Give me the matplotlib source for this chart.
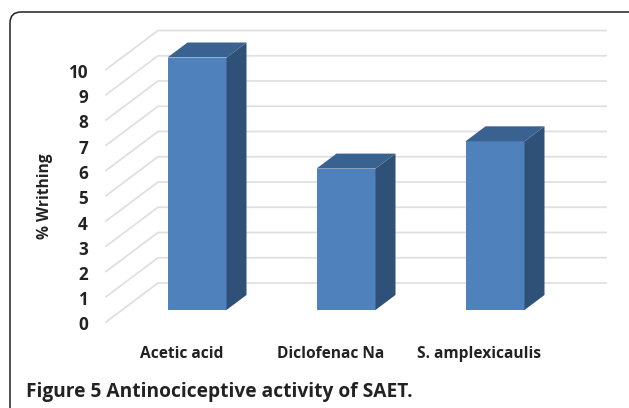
import matplotlib
matplotlib.use('Agg')
import matplotlib.pyplot as plt
from matplotlib.patches import FancyBboxPatch, Polygon

plt.rcParams['font.family'] = ['Open Sans', 'DejaVu Sans']

# Data
categories = ['Acetic acid', 'Diclofenac Na', 'S. amplexicaulis']
values = [10.0, 5.6, 6.68]
tick_values = list(range(0, 11))

W, H = 629, 408
fig = plt.figure(figsize=(W / 100, H / 100), dpi=100)
ax = fig.add_axes([0, 0, 1, 1])

# Scale: bar bases sit at py=310, 25.25 px per unit, 149 px per category
unit_y = 25.25
unit_x = 149.0
ax.set_xlim((0 - 197) / unit_x, (W - 197) / unit_x)
ax.set_ylim((310 - H) / unit_y, 310 / unit_y)
ax.axis('off')


def dx(px):
    return px / unit_x


def dy(px):
    return px / unit_y


# Rounded frame of the figure panel (runs off the right and bottom edges)
frame = FancyBboxPatch((10, H - 12 - 410), 630, 410, boxstyle='round,pad=0,rounding_size=11',
                       transform=None, fc='white', ec='#222222', lw=1.1, zorder=0)
fig.add_artist(frame)

# Offset of the back wall and the bar depth, in pixels
wall_x, wall_y = 52, 39
depth_x, depth_y = 20, 15
grid_end = dx(606 - 197)

for t in tick_values:
    # front end of the slanted floor line
    fx, fy = dx(106 - 197), t + dy(310 - 322)
    bx, by = fx + dx(wall_x), fy + dy(wall_y)
    ax.plot([fx, bx, grid_end], [fy, by, by], color='#e0e0e0', lw=1.3, zorder=1,
            solid_joinstyle='miter')
    ax.text(dx(88 - 197), fy - dy(3.5), str(t), ha='right', va='center',
            fontsize=12.3, fontweight='bold', color='#222222', zorder=5)

half = dx(29.5)
for i, v in enumerate(values):
    ax.bar(i, v, width=half * 2, color='#4f81bd', linewidth=0, zorder=3)
    # side face
    ax.add_patch(Polygon([(i + half, 0), (i + half + dx(depth_x), dy(depth_y)),
                          (i + half + dx(depth_x), v + dy(depth_y)), (i + half, v)],
                         closed=True, fc='#2f5178', ec='none', zorder=3))
    # top face
    ax.add_patch(Polygon([(i - half, v), (i + half, v),
                          (i + half + dx(depth_x), v + dy(depth_y)),
                          (i - half + dx(depth_x), v + dy(depth_y))],
                         closed=True, fc='#3a6290', ec='none', zorder=3))
    ax.text(i - dx(15.5), dy(310 - 354), categories[i],
            ha='center', va='center', fontsize=11.2, fontweight='bold', color='#222222')

ax.text(dx(45 - 197), dy(310 - 196), '% Writhing', rotation=90, ha='center', va='center',
        fontsize=11.2, fontweight='bold', color='#222222')
ax.text(dx(26 - 197), dy(310 - 392), 'Figure 5 Antinociceptive activity of SAET.',
        ha='left', va='center', fontsize=13.8, fontweight='bold', color='#222222')

fig.savefig('out.png', dpi=100)
